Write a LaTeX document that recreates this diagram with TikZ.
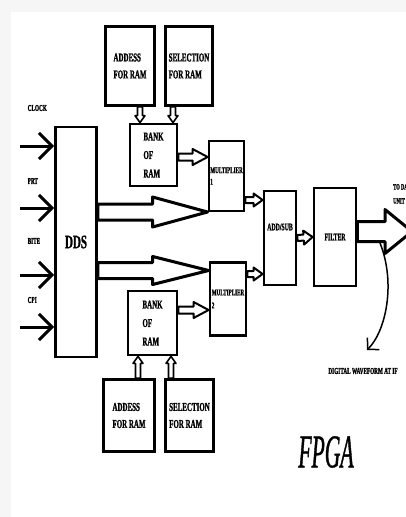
\documentclass[tikz,border=0pt]{standalone}
\usepackage{fontspec}
\setmainfont{Liberation Serif}
\newfontfamily\narrowfont[FakeStretch=0.58, BoldFeatures={FakeBold=1.2}]{Liberation Serif}
\newfontfamily\fpgafont[FakeStretch=0.46, ItalicFeatures={FakeBold=0.8}]{Liberation Serif}
\usetikzlibrary{arrows.meta,calc}
\tikzset{
  blk/.style={draw, line width=2.8pt, inner sep=0pt, align=left,
    font=\narrowfont\bfseries\fontsize{12}{17}\selectfont},
  sig/.style={inner sep=0pt, font=\narrowfont\bfseries\fontsize{9}{11}\selectfont},
  hollow/.style={draw, fill=white, line join=round, line width=#1},
  sigarrow/.style={line width=3pt, -{Straight Barb[length=13pt,width=26pt,line width=3pt]}},
  wavearrow/.style={line width=1.5pt, -{Straight Barb[length=8pt,width=17pt,line width=1.5pt]}}
}
% fat hollow arrow: style, from, to, shaft half width, head half width, head length
\newcommand{\fatarrow}[6]{%
  \coordinate (fa-base) at ($(#3)!#6!(#2)$);
  \draw[#1] ($(#2)!#4!90:(#3)$) -- ($(fa-base)!#4!90:(#3)$) -- ($(fa-base)!#5!90:(#3)$) -- (#3)
    -- ($(fa-base)!#5!-90:(#3)$) -- ($(fa-base)!#4!-90:(#3)$) -- ($(#2)!#4!-90:(#3)$) -- cycle;}
\begin{document}
\begin{tikzpicture}[x=1pt,y=-1pt]
  \useasboundingbox (0,0) rectangle (406,517);
  \fill[gray!7] (0,0) rectangle (406,517);
  \fill[white] (11,12) rectangle (406,517);
  \clip (0,0) rectangle (406,517);

  \node[blk, minimum width=49pt, minimum height=79pt] (addrA) at (130,66) {ADDESS\\FOR RAM};
  \node[blk, minimum width=47pt, minimum height=79pt] (selA) at (189,66) {SELECTION\\FOR RAM};
  \node[blk, minimum width=47pt, minimum height=62pt, font=\narrowfont\bfseries\fontsize{12}{18.5}\selectfont] (bankA) at (153.5,155) {BANK\\OF\\RAM};
  \node[blk, minimum width=41pt, minimum height=230pt, font=\narrowfont\bfseries\fontsize{19}{22}\selectfont] (dds) at (76,242) {DDS};
  \node[blk, minimum width=35pt, minimum height=70pt, font=\narrowfont\bfseries\fontsize{8.8}{11.5}\selectfont] (multA) at (226.5,176) {MULTIPLIER\\1};
  \node[blk, minimum width=36pt, minimum height=73pt, font=\narrowfont\bfseries\fontsize{8.8}{13}\selectfont] (multB) at (228,299) {MULTIPLIER\\2};
  \node[blk, minimum width=49pt, minimum height=64pt, font=\narrowfont\bfseries\fontsize{12}{18.5}\selectfont] (bankB) at (152.5,323) {BANK\\OF\\RAM};
  \node[blk, minimum width=51pt, minimum height=72pt] (addrB) at (129,415.5) {ADDESS\\FOR RAM};
  \node[blk, minimum width=48pt, minimum height=72pt] (selB) at (189.5,415.5) {SELECTION\\FOR RAM};
  \node[blk, minimum width=32pt, minimum height=94pt] (addsub) at (280,238) {};
  \node[sig, font=\narrowfont\bfseries\fontsize{10}{12}\selectfont] (addsubtxt) at ([yshift=11pt]addsub.center) {ADD/SUB};
  \node[blk, minimum width=42pt, minimum height=98pt, font=\narrowfont\bfseries\fontsize{10}{12}\selectfont] (filter) at (335,237) {FILTER};

  \foreach \y/\ly/\t in {146/108/CLOCK, 208/181/PRT, 275/241/BITE, 327/300/CPI} {
    \coordinate (in\t) at (20,\y);
    \node[sig, anchor=west] (lbl\t) at (27.5,\ly) {\t};
    \draw[sigarrow] (in\t) -- (in\t -| dds.west);
  }

  \fatarrow{hollow=3pt}{[yshift=30pt]dds.east}{[yshift=-36pt]multA.west}{8pt}{15pt}{55pt}
  \fatarrow{hollow=3pt}{[yshift=-28.5pt]dds.east}{[yshift=28.5pt]multB.west}{8pt}{14pt}{56pt}
  \fatarrow{hollow=2pt}{[yshift=-2pt]bankA.east}{[yshift=19pt]multA.west}{3.5pt}{8pt}{15pt}
  \fatarrow{hollow=2pt}{[yshift=13pt]bankB.east}{[yshift=-11pt]multB.west}{3.5pt}{8pt}{15pt}
  \fatarrow{hollow=2pt}{[yshift=-24pt]multA.east}{[yshift=38pt]addsub.west}{3pt}{6.5pt}{9pt}
  \fatarrow{hollow=2pt}{[yshift=25pt]multB.east}{[yshift=-36pt]addsub.west}{3pt}{6.5pt}{9pt}
  \fatarrow{hollow=2pt}{[yshift=0pt]addsub.east}{[yshift=0pt]filter.west}{3pt}{7pt}{9pt}
  \fatarrow{hollow=1.6pt}{[xshift=10pt]addrA.south}{[xshift=-13.5pt]bankA.north}{2.5pt}{5pt}{7pt}
  \fatarrow{hollow=1.6pt}{[xshift=-16pt]selA.south}{[xshift=19.5pt]bankA.north}{2.5pt}{5pt}{7pt}
  \fatarrow{hollow=1.6pt}{[xshift=9pt]addrB.north}{[xshift=-14.5pt]bankB.south}{2.5pt}{5pt}{7pt}
  \fatarrow{hollow=1.6pt}{[xshift=-18.5pt]selB.north}{[xshift=18.5pt]bankB.south}{2.5pt}{5pt}{7pt}

  \coordinate (dactip) at (412,231.5);
  \fatarrow{hollow=3pt}{[yshift=5.5pt]filter.east}{dactip}{10pt}{22pt}{27pt}
  \node[sig, anchor=north west, align=left, font=\narrowfont\bfseries\fontsize{8}{14}\selectfont] (dac) at (393,184) {TO DAC\\UNIT};

  \coordinate (tap) at (380,243);
  \coordinate (wavetip) at (367,350);
  \draw[wavearrow] (tap) .. controls (396,283) and (386,331) .. (wavetip);
  \node[sig] (wave) at (363,371) {DIGITAL WAVEFORM AT IF};

  \node[inner sep=0pt, font=\fpgafont\itshape\fontsize{47}{50}\selectfont] (fpga) at (326,452) {FPGA};
\end{tikzpicture}
\end{document}
